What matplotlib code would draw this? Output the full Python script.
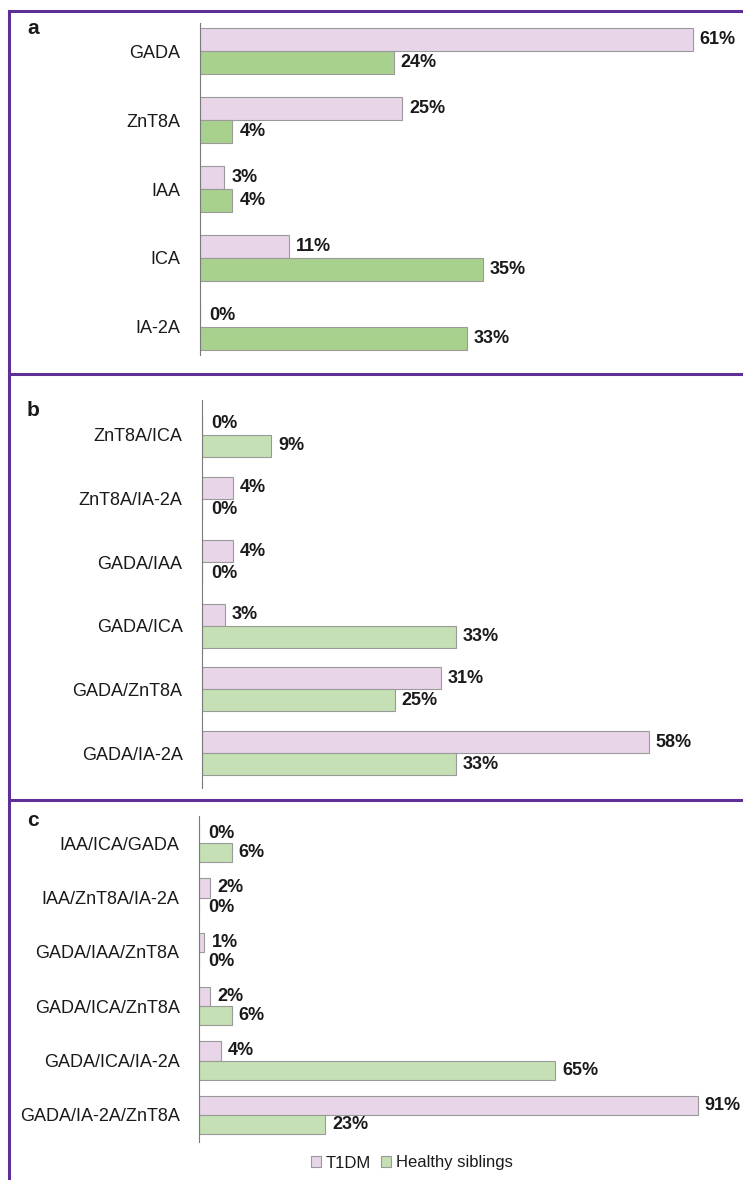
import matplotlib.pyplot as plt
from matplotlib.lines import Line2D
from matplotlib.patches import Patch
import numpy as np

plt.rcParams['font.family'] = ['Liberation Sans', 'DejaVu Sans']

categories_a = ['GADA', 'ZnT8A', 'IAA', 'ICA', 'IA-2A']
t1dm_a = [61, 25, 3, 11, 0]
sib_a = [24, 4, 4, 35, 33]

categories_b = ['ZnT8A/ICA', 'ZnT8A/IA-2A', 'GADA/IAA', 'GADA/ICA', 'GADA/ZnT8A', 'GADA/IA-2A']
t1dm_b = [0, 4, 4, 3, 31, 58]
sib_b = [9, 0, 0, 33, 25, 33]

categories_c = ['IAA/ICA/GADA', 'IAA/ZnT8A/IA-2A', 'GADA/IAA/ZnT8A', 'GADA/ICA/ZnT8A',
                'GADA/ICA/IA-2A', 'GADA/IA-2A/ZnT8A']
t1dm_c = [0, 2, 1, 2, 4, 91]
sib_c = [6, 0, 0, 6, 65, 23]

W, H = 743, 1180
PINK = '#e8d6e8'
GREEN_A = '#a9d18e'
GREEN_BC = '#c5e0b4'
EDGE = '#9a9a9a'
PURPLE = '#5e2f97'
TEXT = '#1a1a1a'


def px_axes(fig, left, top, right, bottom):
    return fig.add_axes([left / W, 1 - bottom / H, (right - left) / W, (bottom - top) / H])


def draw_panel(ax, cats, t1dm, sib, green, xmax, margin, height):
    y = np.arange(len(cats))
    ax.barh(y - height / 2, t1dm, height=height, color=PINK, edgecolor=EDGE, linewidth=0.8)
    ax.barh(y + height / 2, sib, height=height, color=green, edgecolor=EDGE, linewidth=0.8)
    for i in range(len(cats)):
        for val, yy in ((t1dm[i], y[i] - height / 2), (sib[i], y[i] + height / 2)):
            ax.annotate(f'{val}%', xy=(val, yy), xytext=(5 if val else 7, 0),
                        textcoords='offset points', va='center', ha='left',
                        fontsize=13, fontweight='bold', color=TEXT)
    ax.set_xlim(0, xmax)
    ax.set_ylim(len(cats) - 1 + margin, -margin)
    ax.set_yticks(y)
    ax.set_yticklabels(cats, fontsize=13, color=TEXT)
    ax.tick_params(axis='y', length=0, pad=14)
    ax.set_xticks([])
    for s in ('top', 'right', 'bottom'):
        ax.spines[s].set_visible(False)
    ax.spines['left'].set_color('#7a7a7a')
    ax.spines['left'].set_linewidth(0.8)


def main():
    fig = plt.figure(figsize=(W / 100, H / 100), dpi=100)

    ax_a = px_axes(fig, 200, 23, 740, 355)
    draw_panel(ax_a, categories_a, t1dm_a, sib_a, GREEN_A, 540 / 8.08, 0.406, 0.333)

    ax_b = px_axes(fig, 202, 400, 740, 788)
    draw_panel(ax_b, categories_b, t1dm_b, sib_b, GREEN_BC, 538 / 7.7, 0.55, 0.346)

    ax_c = px_axes(fig, 199, 816, 740, 1142)
    draw_panel(ax_c, categories_c, t1dm_c, sib_c, GREEN_BC, 541 / 5.48, 0.5, 0.35)

    # purple frame and separators
    lw = 2.2
    fig.add_artist(Line2D([9 / W, 1], [1 - 11 / H, 1 - 11 / H], color=PURPLE, lw=lw))
    fig.add_artist(Line2D([9 / W, 9 / W], [0, 1 - 11 / H], color=PURPLE, lw=lw))
    for yy in (374, 800):
        fig.add_artist(Line2D([9 / W, 1], [1 - yy / H, 1 - yy / H], color=PURPLE, lw=lw))

    # panel letters
    for letter, yy in (('a', 28), ('b', 411), ('c', 820)):
        fig.text(27 / W, 1 - yy / H, letter, fontsize=15, fontweight='bold',
                 va='center', ha='left', color=TEXT)

    handles = [Patch(facecolor=PINK, edgecolor=EDGE, linewidth=0.8, label='T1DM'),
               Patch(facecolor=GREEN_BC, edgecolor=EDGE, linewidth=0.8, label='Healthy siblings')]
    fig.legend(handles=handles, loc='center', bbox_to_anchor=(412 / W, 1 - 1163 / H),
               ncol=2, frameon=False, fontsize=12, handlelength=0.6, handleheight=0.6,
               handletextpad=0.3, columnspacing=0.6, labelcolor=TEXT)

    fig.savefig('out.png', dpi=100)


if __name__ == '__main__':
    main()
